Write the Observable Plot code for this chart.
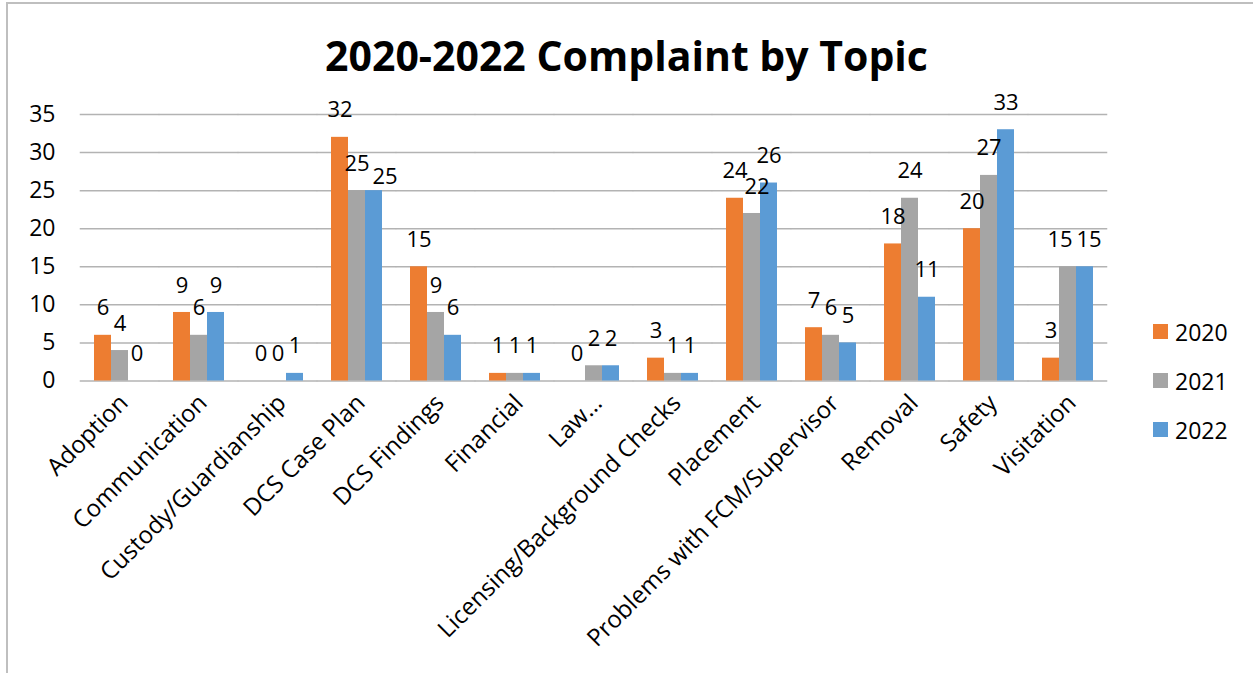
<!DOCTYPE html>
<html>
<head>
<meta charset="utf-8">
<script src="https://cdn.jsdelivr.net/npm/d3@7"></script>
<script src="https://cdn.jsdelivr.net/npm/@observablehq/plot@0.6"></script>
<style>
  html, body { margin: 0; padding: 0; background: #fff; overflow: hidden; }
  body { width: 1253px; height: 673px; position: relative; font-family: "Open Sans", sans-serif; }
  #frame { position: absolute; left: 6px; top: 2px; width: 1400px; height: 800px;
           border-left: 2px solid #bfbfbf; border-top: 2px solid #bfbfbf; pointer-events: none; }
  #title { position: relative; height: 90px; box-sizing: border-box; padding-top: 17px;
           line-height: 77px; font-size: 41px; font-weight: 700; text-align: center; color: #000; }
  #chart { position: relative; }
  #legend { position: absolute; left: 1153px; top: 307px; }
  .item { display: flex; align-items: center; height: 49px; font-size: 23px; color: #000; }
  .sw { width: 15px; height: 15px; margin-right: 7px; }
</style>
</head>
<body>
<div id="frame"></div>
<div id="title">2020-2022 Complaint by Topic</div>
<div id="chart"></div>
<div id="legend"></div>
<script>
const topics = ["Adoption", "Communication", "Custody/Guardianship", "DCS Case Plan", "DCS Findings",
  "Financial", "Law…", "Licensing/Background Checks", "Placement", "Problems with FCM/Supervisor",
  "Removal", "Safety", "Visitation"];
const years = ["2020", "2021", "2022"];
const v2020 = [6, 9, 0, 32, 15, 1, 0, 3, 24, 7, 18, 20, 3];
const v2021 = [4, 6, 0, 25, 9, 1, 2, 1, 22, 6, 24, 27, 15];
const v2022 = [0, 9, 1, 25, 6, 1, 2, 1, 26, 5, 11, 33, 15];
const colors = ["#ED7D31", "#A5A5A5", "#5B9BD5"];
const yTicks = [0, 5, 10, 15, 20, 25, 30, 35];

const series = [v2020, v2021, v2022];
const data = topics.flatMap((t, i) => years.map((y, j) => ({topic: t, year: y, value: series[j][i]})));

// labels that the original chart nudged aside to avoid collisions
const is = (t, y) => d => d.topic === t && d.year === y;
const nudged = [
  {test: is("DCS Case Plan", "2022"), dx: 11, dy: -14},
  {test: is("Visitation", "2021"), dx: -8, dy: -27},
  {test: is("Visitation", "2022"), dx: 4, dy: -27},
  {test: is("Placement", "2021"), dx: 5, dy: -27}
];
const isPlain = d => !nudged.some(n => n.test(d));

const W = 1253, ML = 76, MR = 143;
const step = (W - ML - MR) / topics.length;
const half = step / 6; // half of the inner gap between groups

const labelOpts = {fx: "topic", x: "year", y: "value", text: d => String(d.value), fontSize: 22, fill: "#000"};

const chart = Plot.plot({
  width: W,
  height: 583,
  marginLeft: ML,
  marginRight: MR,
  marginTop: 24,
  marginBottom: 292.5,
  style: {fontFamily: "Open Sans", fontSize: "22px", color: "#000", background: "transparent", overflow: "visible"},
  fx: {domain: topics, paddingInner: 1/3, paddingOuter: 1/6, label: null},
  x: {domain: years, padding: 0, axis: null},
  y: {domain: [0, 35], label: null},
  color: {domain: years, range: colors},
  marks: [
    Plot.ruleY(yTicks, {stroke: "#b3b3b3", strokeWidth: 1.5, insetLeft: -half, insetRight: -half}),
    Plot.axisY({ticks: yTicks, tickSize: 0, tickPadding: 38, fontSize: 23, label: null, fill: "#000"}),
    Plot.axisFx({anchor: "bottom", tickRotate: -45, tickSize: 0, tickPadding: 18, fontSize: 24, label: null, fill: "#000", dx: 4}),
    Plot.barY(data, {fx: "topic", x: "year", y: "value", fill: "year"}),
    Plot.text(data.filter(isPlain), {...labelOpts, dy: -27}),
    ...nudged.map(n => Plot.text(data.filter(n.test), {...labelOpts, dx: n.dx, dy: n.dy}))
  ]
});
document.getElementById("chart").appendChild(chart);

const legend = document.getElementById("legend");
years.forEach((y, i) => {
  const item = document.createElement("div");
  item.className = "item";
  const sw = document.createElement("div");
  sw.className = "sw";
  sw.style.background = colors[i];
  const lab = document.createElement("span");
  lab.textContent = y;
  item.appendChild(sw);
  item.appendChild(lab);
  legend.appendChild(item);
});
</script>
</body>
</html>
